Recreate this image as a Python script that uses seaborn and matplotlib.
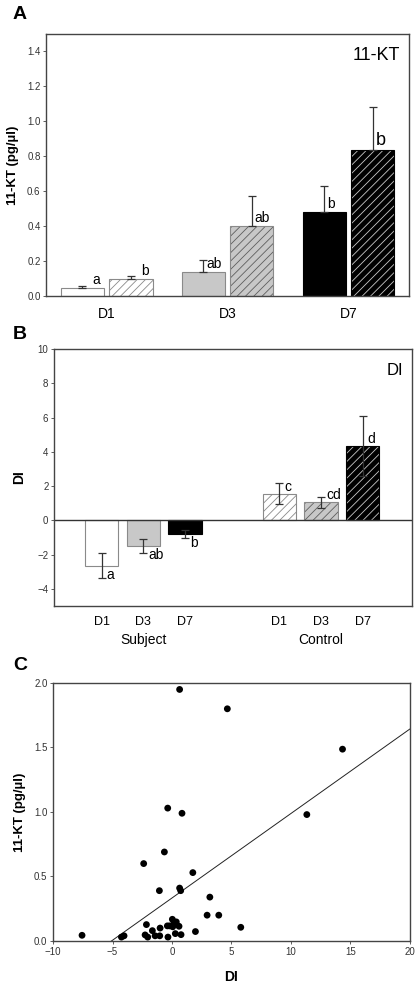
import numpy as np
import pandas as pd
import seaborn as sns
import matplotlib.pyplot as plt
from matplotlib.colors import to_rgba

# ---- panel A: 11-KT by day ----
days = ["D1", "D3", "D7"]
groups = ["Subject", "Control"]
kt_subject = [0.045, 0.135, 0.48]
kt_control = [0.10, 0.40, 0.835]
kt_subject_err = [0.01, 0.07, 0.15]
kt_control_err = [0.015, 0.17, 0.245]
kt_letters_subject = ["a", "ab", "b"]
kt_letters_control = ["b", "ab", "b"]

# ---- panel B: DI ----
di_subject = [-2.65, -1.5, -0.8]
di_control = [1.55, 1.05, 4.35]
di_subject_err = [0.72, 0.42, 0.25]
di_control_err = [0.6, 0.33, 1.75]
di_letters_subject = ["a", "ab", "b"]
di_letters_control = ["c", "cd", "d"]

# ---- panel C: scatter DI vs 11-KT ----
di_points = [-7.56, -4.25, -4.03, 0.64, 4.65, 14.33, 11.33, -0.36, 0.84, -0.64,
             -2.38, 1.75, 0.64, 0.73, -1.06, 3.18, 2.95, 3.93, 5.78, 1.97,
             -2.15, -2.26, -2.04, -1.65, -1.42, -1.0, -1.03, -0.39, -0.34, 0.03,
             0.14, 0.36, 0.06, 0.28, 0.59, 0.76, -0.2]
kt_points = [0.044, 0.03, 0.04, 1.95, 1.80, 1.487, 0.98, 1.03, 0.99, 0.69,
             0.60, 0.53, 0.41, 0.39, 0.39, 0.34, 0.20, 0.20, 0.106, 0.073,
             0.127, 0.047, 0.03, 0.08, 0.04, 0.10, 0.04, 0.117, 0.03, 0.168,
             0.13, 0.148, 0.11, 0.057, 0.114, 0.049, 0.117]

# styling per day
face = {"D1": "white", "D3": "#c8c8c8", "D7": "black"}
edge = {"D1": "#8a8a8a", "D3": "#8a8a8a", "D7": "black"}
hatch_col = {"D1": "#8a8a8a", "D3": "#5e5e5e", "D7": "#c8c8c8"}

sns.set_theme(style="white")
plt.rcParams["font.family"] = ["Liberation Sans", "DejaVu Sans"]
plt.rcParams["hatch.linewidth"] = 0.6
plt.rcParams["axes.edgecolor"] = "#444444"
plt.rcParams["axes.linewidth"] = 1.0
plt.rcParams["text.color"] = "black"
plt.rcParams["axes.labelcolor"] = "black"
plt.rcParams["xtick.color"] = "black"
plt.rcParams["ytick.color"] = "black"

fig = plt.figure(figsize=(4.19, 9.85), dpi=100)
axA = fig.add_axes([0.110, 0.6995, 0.866, 0.266])
axB = fig.add_axes([0.129, 0.3848, 0.854, 0.2609])
axC = fig.add_axes([0.1265, 0.0447, 0.852, 0.2619])


def style_bar(p, day, hatched):
    p.set_facecolor(face[day])
    p.set_edgecolor(edge[day])
    p.set_linewidth(0.8)
    if hatched:
        p.set_hatch("////")
        p._hatch_color = to_rgba(hatch_col[day])


# ---------- A ----------
dfA = pd.DataFrame({
    "day": days * 2,
    "group": [groups[0]] * 3 + [groups[1]] * 3,
    "kt": kt_subject + kt_control,
})
sns.barplot(data=dfA, x="day", y="kt", hue="group", order=days, hue_order=groups,
            width=0.8, gap=0.1, errorbar=None, legend=False, ax=axA)

errs = [kt_subject_err, kt_control_err]
letters = [kt_letters_subject, kt_letters_control]
big = [[False, False, False], [False, False, True]]
bar_conts = list(axA.containers)
for gi, cont in enumerate(bar_conts):
    xs, hs = [], []
    for di, p in enumerate(cont.patches):
        style_bar(p, days[di], gi == 1)
        xs.append(p.get_x() + p.get_width() / 2)
        hs.append(p.get_height())
    axA.errorbar(xs, hs, yerr=[np.zeros(3), errs[gi]], fmt="none", ecolor="#333333",
                 elinewidth=0.9, capsize=3, capthick=0.9, zorder=3)
    for di in range(3):
        dx = 10 if di == 0 else 3
        axA.annotate(letters[gi][di], (xs[di], hs[di]), xytext=(dx, 1),
                     textcoords="offset pixels", ha="left", va="bottom",
                     fontsize=13 if big[gi][di] else 10, color="black", zorder=4)

axA.set_ylim(0, 1.5)
axA.set_xlim(-0.5, 2.5)
axA.set_yticks(np.arange(0, 1.41, 0.2))
axA.set_yticklabels([f"{v:.1f}" for v in np.arange(0, 1.41, 0.2)])
axA.tick_params(axis="y", labelsize=7, labelcolor="#333333", left=True, length=2,
                width=0.6, color="#444444", pad=2)
axA.tick_params(axis="x", labelsize=10, bottom=False, pad=2)
axA.set_xlabel("")
axA.set_ylabel("11-KT (pg/µl)", fontsize=9.5, fontweight="bold", labelpad=6)
axA.text(0.975, 0.95, "11-KT", transform=axA.transAxes, ha="right", va="top", fontsize=13)

# ---------- B ----------
group_gap = 4.27
dfB = pd.DataFrame({
    "slot": [g * group_gap + d for g in range(2) for d in range(3)],
    "di": di_subject + di_control,
    "err": di_subject_err + di_control_err,
    "day": days * 2,
    "letter": di_letters_subject + di_letters_control,
})
sns.barplot(data=dfB, x="slot", y="di", native_scale=True, width=0.8,
            errorbar=None, color="white", ax=axB)
for i, p in enumerate(axB.patches):
    style_bar(p, dfB["day"][i], i >= 3)
axB.errorbar(dfB["slot"], dfB["di"], yerr=dfB["err"], fmt="none", ecolor="#333333",
             elinewidth=0.9, capsize=3, capthick=0.9, zorder=3)
axB.axhline(0, color="#333333", lw=1.0, zorder=2)
for i, row in dfB.iterrows():
    if row["di"] < 0:
        axB.annotate(row["letter"], (row["slot"], row["di"]), xytext=(5, -2),
                     textcoords="offset pixels", ha="left", va="top", fontsize=10, zorder=4)
    else:
        axB.annotate(row["letter"], (row["slot"], row["di"]), xytext=(5, 0),
                     textcoords="offset pixels", ha="left", va="bottom", fontsize=10, zorder=4)

axB.set_ylim(-5, 10)
axB.set_xlim(-1.14, 7.45)
axB.set_yticks(range(-4, 11, 2))
axB.set_xticks(dfB["slot"], labels=dfB["day"])
axB.tick_params(axis="y", labelsize=7, labelcolor="#333333", left=True, length=2,
                width=0.6, color="#444444", pad=2)
axB.tick_params(axis="x", labelsize=9, bottom=False, pad=1)
axB.set_xlabel("")
axB.set_ylabel("DI", fontsize=10, fontweight="bold", labelpad=8)
axB.text(0.975, 0.945, "DI", transform=axB.transAxes, ha="right", va="top", fontsize=12)
for g in range(2):
    cx = dfB["slot"][g * 3: g * 3 + 3].mean()
    axB.text(cx, -0.132, groups[g], transform=axB.get_xaxis_transform(),
             ha="center", va="center", fontsize=10)

# ---------- C ----------
dfC = pd.DataFrame({"DI": di_points, "KT": kt_points})
axC.set_xlim(-10, 20)
axC.set_ylim(0, 2.0)
sns.scatterplot(data=dfC, x="DI", y="KT", color="black", s=24, edgecolor="none", ax=axC,
                zorder=3, clip_on=False)
sns.regplot(data=dfC, x="DI", y="KT", scatter=False, ci=None, truncate=False,
            line_kws=dict(color="#222222", lw=0.7), ax=axC)
axC.set_xlim(-10, 20)
axC.set_ylim(0, 2.0)
axC.set_xticks(range(-10, 21, 5))
axC.set_yticks(np.arange(0, 2.01, 0.5))
axC.set_yticklabels([f"{v:.1f}" for v in np.arange(0, 2.01, 0.5)])
axC.tick_params(axis="both", labelsize=7, labelcolor="#333333", left=True, bottom=True,
                length=2, width=0.6, color="#444444", pad=2)
axC.set_xlabel("DI", fontsize=10, fontweight="bold", labelpad=10)
axC.set_ylabel("11-KT (pg/µl)", fontsize=9.5, fontweight="bold", labelpad=6)

for lab, ytop in [("A", 1 - 6 / 985), ("B", 1 - 326 / 985), ("C", 1 - 657 / 985)]:
    fig.text(13 / 419, ytop, lab, ha="left", va="top", fontsize=14, fontweight="bold",
             color="black")

fig.savefig("out.png", dpi=100)
